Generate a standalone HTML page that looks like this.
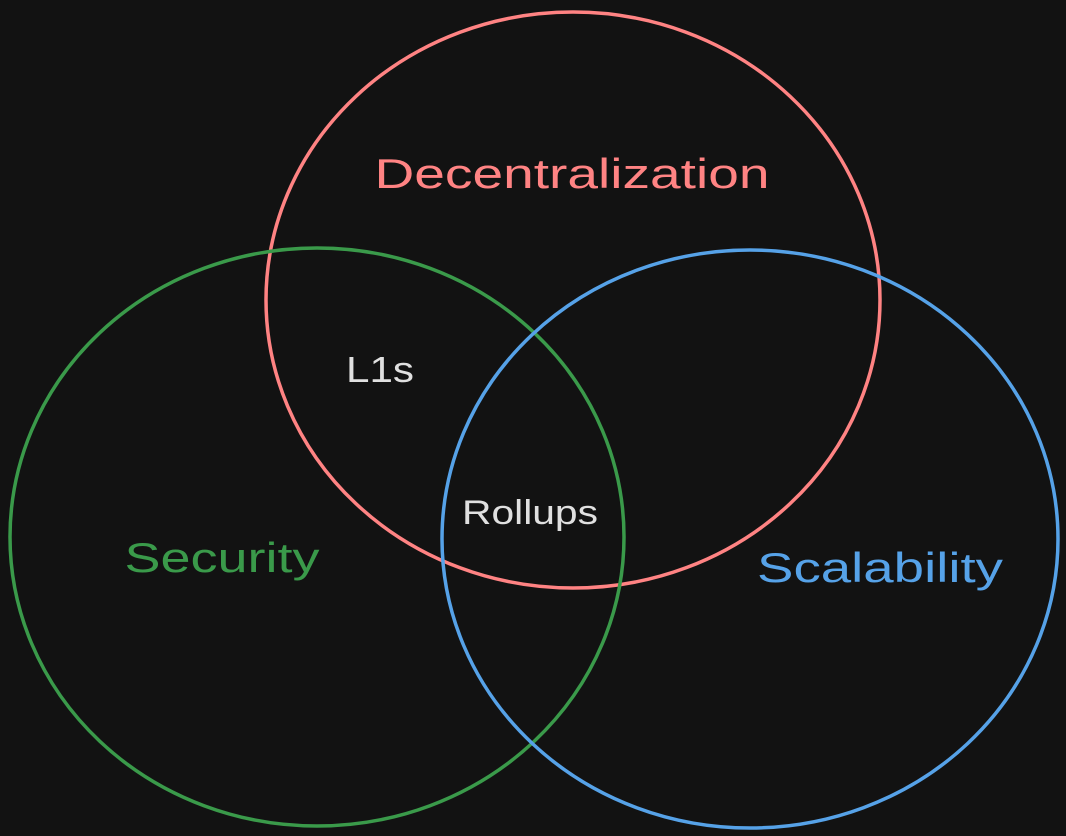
<!DOCTYPE html>
<html><head><meta charset="utf-8"><style>
html,body{margin:0;padding:0;background:#121212;}
svg{display:block}
text{font-family:"Liberation Sans",sans-serif;}
</style></head><body>
<svg width="1066" height="836" viewBox="0 0 1066 836">
<rect width="1066" height="836" fill="#121212"/>
<ellipse cx="573" cy="300" rx="307" ry="288" fill="none" stroke="#ff8383" stroke-width="3.5"/>
<ellipse cx="317" cy="537" rx="307" ry="289" fill="none" stroke="#3a9a4a" stroke-width="3.5"/>
<ellipse cx="750" cy="539" rx="308" ry="289" fill="none" stroke="#56a2e8" stroke-width="3.5"/>
<text x="572" y="188" font-size="42" fill="#ff8383" text-anchor="middle" textLength="395" lengthAdjust="spacingAndGlyphs">Decentralization</text>
<text x="222" y="572" font-size="42" fill="#3a9a4a" text-anchor="middle" textLength="195" lengthAdjust="spacingAndGlyphs">Security</text>
<text x="880" y="582" font-size="42" fill="#56a2e8" text-anchor="middle" textLength="246" lengthAdjust="spacingAndGlyphs">Scalability</text>
<text x="380" y="382" font-size="36" fill="#e0e0e0" text-anchor="middle" textLength="68" lengthAdjust="spacingAndGlyphs">L1s</text>
<text x="530" y="524" font-size="34" fill="#e0e0e0" text-anchor="middle" textLength="136" lengthAdjust="spacingAndGlyphs">Rollups</text>
</svg>
</body></html>
